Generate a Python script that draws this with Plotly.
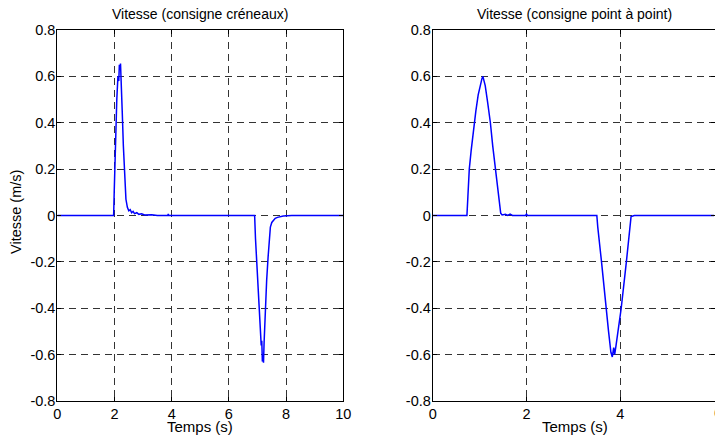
import plotly.graph_objects as go

# ---- data ----
t_creneaux = [0, 1.97, 1.99, 2.03, 2.08, 2.12, 2.15, 2.17, 2.19, 2.21, 2.23, 2.27, 2.31, 2.35,
              2.40, 2.45, 2.50, 2.55, 2.60, 2.65, 2.70, 2.78, 2.85, 2.95, 3.05, 3.30, 3.50,
              3.86, 3.88, 3.90, 6.90, 6.93, 6.97, 7.02, 7.06, 7.10, 7.13, 7.15, 7.17, 7.19,
              7.21, 7.23, 7.27, 7.32, 7.37, 7.41, 7.45, 7.50, 7.55, 7.62, 7.70, 7.80, 7.90,
              8.20, 10]
v_creneaux = [0, 0, 0.10, 0.30, 0.50, 0.60, 0.58, 0.65, 0.63, 0.655, 0.60, 0.45, 0.30, 0.17,
              0.07, 0.035, 0.02, 0.025, 0.012, 0.018, 0.008, 0.012, 0.005, 0.007, 0.002, 0.003, 0,
              0, 0.006, 0, 0, -0.10, -0.20, -0.32, -0.40, -0.50, -0.56, -0.54, -0.63, -0.60,
              -0.635, -0.55, -0.40, -0.28, -0.18, -0.10, -0.05, -0.03, -0.02, -0.012, -0.008, -0.005, -0.002,
              0, 0]

t_point = [0, 0.73, 0.75, 0.78, 0.82, 0.87, 0.92, 0.97, 1.02, 1.05, 1.07, 1.09, 1.12, 1.17,
           1.23, 1.28, 1.34, 1.40, 1.45, 1.48, 1.55, 1.60, 1.65, 1.70, 1.98, 2.00, 2.02,
           3.50, 3.52, 3.60, 3.69, 3.75, 3.80, 3.83, 3.86, 3.88, 3.91, 3.95, 4.02, 4.13,
           4.20, 4.23, 4.30, 6]
v_point = [0, 0, 0.08, 0.20, 0.28, 0.38, 0.45, 0.52, 0.57, 0.59, 0.60, 0.585, 0.56, 0.49,
           0.40, 0.30, 0.20, 0.09, 0.01, 0.002, 0.005, 0, 0.006, 0, 0, 0.006, 0,
           0, -0.05, -0.20, -0.40, -0.50, -0.59, -0.61, -0.57, -0.60, -0.56, -0.50, -0.40, -0.20,
           -0.06, -0.005, 0, 0]

x_ticks_left = [0, 2, 4, 6, 8, 10]
x_ticks_right = [0, 2, 4, 6]
y_ticks = [-0.8, -0.6, -0.4, -0.2, 0, 0.2, 0.4, 0.6, 0.8]
y_labels = ["-0.8", "-0.6", "-0.4", "-0.2", "0", "0.2", "0.4", "0.6", "0.8"]

title_left = "Vitesse (consigne créneaux)"
title_right = "Vitesse (consigne point à point)"
xlabel = "Temps (s)"
ylabel = "Vitesse (m/s)"

# ---- figure ----
W, H = 715, 437
FONT = "Liberation Sans, Arial, sans-serif"
fig = go.Figure()
fig.add_trace(go.Scatter(x=t_creneaux, y=v_creneaux, mode="lines",
                         line=dict(color="#0000ff", width=1.5), xaxis="x", yaxis="y",
                         showlegend=False))
fig.add_trace(go.Scatter(x=t_point, y=v_point, mode="lines",
                         line=dict(color="#0000ff", width=1.5), xaxis="x2", yaxis="y2",
                         showlegend=False))

left_dom = [57.3 / W, 343.3 / W]
right_dom = [432.7 / W, 1.0]
y_dom = [1 - 401 / H, 1 - 30 / H]

common_x = dict(showline=True, linecolor="black", linewidth=1, mirror="ticks",
                ticks="inside", ticklen=4, tickcolor="black",
                showgrid=True, gridcolor="#333333", gridwidth=1, griddash="7px,5px",
                zeroline=False, tickfont=dict(family=FONT, size=14.5, color="black"),
                automargin=False, fixedrange=True)
common_y = dict(common_x)

# the last right-hand tick label sits on the page edge (cut off), drawn as an annotation
right_ticktext = [str(v) for v in x_ticks_right[:-1]] + [""]

fig.update_layout(
    width=W, height=H,
    margin=dict(l=0, r=0, t=0, b=0),
    paper_bgcolor="white", plot_bgcolor="white",
    font=dict(family=FONT, size=14, color="black"),
    xaxis=dict(domain=left_dom, range=[0, 10], tickvals=x_ticks_left, anchor="y", **common_x),
    yaxis=dict(domain=y_dom, range=[-0.8, 0.8], tickvals=y_ticks, ticktext=y_labels,
               anchor="x", ticklabelstandoff=-2, **common_y),
    xaxis2=dict(domain=right_dom, range=[0, 6.02], tickvals=x_ticks_right,
                ticktext=right_ticktext, anchor="y2", **common_x),
    yaxis2=dict(domain=y_dom, range=[-0.8, 0.8], tickvals=y_ticks, ticktext=y_labels,
                anchor="x2", ticklabelstandoff=-2, **common_y),
    annotations=[
        dict(text=title_left, x=(57.3 + 343.3) / 2 / W, y=1 - 4 / H, xref="paper", yref="paper",
             xanchor="center", yanchor="top", showarrow=False, font=dict(size=14)),
        dict(text=title_right, x=(432.7 + 717) / 2 / W, y=1 - 4 / H, xref="paper", yref="paper",
             xanchor="center", yanchor="top", showarrow=False, font=dict(size=14)),
        dict(text=xlabel, x=(57.3 + 343.3) / 2 / W, y=0, xref="paper", yref="paper",
             xanchor="center", yanchor="bottom", showarrow=False, font=dict(size=15)),
        dict(text=xlabel, x=(432.7 + 717) / 2 / W, y=0, xref="paper", yref="paper",
             xanchor="center", yanchor="bottom", showarrow=False, font=dict(size=15)),
        dict(text=ylabel, x=16 / W, y=1 - 212 / H, xref="paper", yref="paper",
             xanchor="center", yanchor="middle", textangle=-90, showarrow=False,
             font=dict(size=14.5)),
        dict(text=str(x_ticks_right[-1]), x=717.5 / W, xref="paper",
             y=1 - 403 / H, yref="paper", xanchor="center", yanchor="top", showarrow=False,
             font=dict(size=14.5)),
    ],
)

fig.write_html("out.html", config={"displayModeBar": False},
               post_script="document.body.style.margin='0';document.body.style.overflow='hidden';")
